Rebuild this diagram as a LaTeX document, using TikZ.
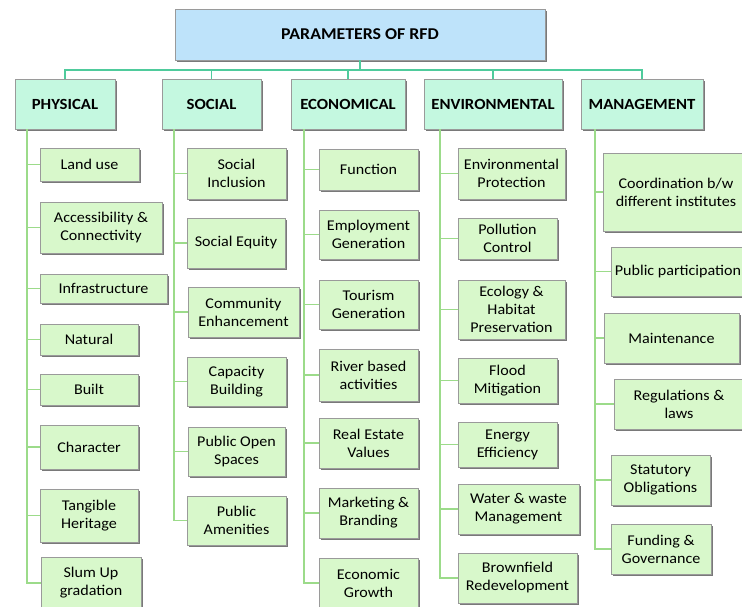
\documentclass[tikz,border=0pt]{standalone}
\usepackage{fontspec}
\setmainfont{Carlito}[FakeStretch=1.08]
\usetikzlibrary{shadows}

\definecolor{titleblue}{HTML}{BEE3FA}
\definecolor{headmint}{HTML}{C4F8E0}
\definecolor{leafgreen}{HTML}{D8F8CB}
\definecolor{busteal}{HTML}{4FCB9C}
\definecolor{spinegreen}{HTML}{9CDB8A}
\definecolor{edgegray}{HTML}{9A9A9A}

\tikzset{
	box/.style={draw=edgegray, line width=0.8pt, align=center, inner sep=2pt,
		drop shadow={shadow xshift=1.5pt, shadow yshift=-2pt, fill=black!70, opacity=.75}},
	titlebox/.style={box, fill=titleblue, font=\fontsize{16.5}{19}\selectfont\bfseries},
	headbox/.style={box, fill=headmint, font=\fontsize{15.5}{18}\selectfont\bfseries},
	leafbox/.style={box, fill=leafgreen, font=\fontsize{14.9}{18}\selectfont},
	bus/.style={draw=busteal, line width=1.5pt},
	branch/.style={draw=spinegreen, line width=1.5pt},
}

\begin{document}
\begin{tikzpicture}[x=1pt, y=-1pt]
		\useasboundingbox (0, 0) rectangle (742, 606);

		% root and categories
		\node[titlebox, minimum width=370, minimum height=51] (rfd) at (360, 34.5) {PARAMETERS OF RFD};
		\node[headbox, minimum width=100, minimum height=50] (phys) at (65, 104) {PHYSICAL};
		\node[headbox, minimum width=99, minimum height=50] (soc) at (211.5, 104) {SOCIAL};
		\node[headbox, minimum width=114, minimum height=50] (econ) at (348, 104) {ECONOMICAL};
		\node[headbox, minimum width=138, minimum height=50] (env) at (493, 104) {ENVIRONMENTAL};
		\node[headbox, minimum width=122, minimum height=50] (mgmt) at (642, 104) {MANAGEMENT};

		% physical
		\node[leafbox, minimum width=99, minimum height=33] (pland) at (89.5, 164.5) {Land use};
		\node[leafbox, minimum width=122, minimum height=51] (pacc) at (101, 227.5) {Accessibility \&\\Connectivity};
		\node[leafbox, minimum width=127, minimum height=29] (pinf) at (103.5, 288.5) {Infrastructure};
		\node[leafbox, minimum width=98, minimum height=31] (pnat) at (89, 339.5) {Natural};
		\node[leafbox, minimum width=98, minimum height=31] (pbuilt) at (89, 389.5) {Built};
		\node[leafbox, minimum width=98, minimum height=44] (pchar) at (89, 447) {Character};
		\node[leafbox, minimum width=98, minimum height=53] (ptang) at (89, 515.5) {Tangible\\Heritage};
		\node[leafbox, minimum width=100, minimum height=52] (pslum) at (91, 583) {Slum Up\\gradation};

		% social
		\node[leafbox, minimum width=99, minimum height=51] (sinc) at (236.5, 173.5) {Social\\Inclusion};
		\node[leafbox, minimum width=98, minimum height=50] (sequ) at (236, 243) {Social Equity};
		\node[leafbox, minimum width=111, minimum height=50] (scom) at (243.5, 312) {Community\\Enhancement};
		\node[leafbox, minimum width=99, minimum height=49] (scap) at (236.5, 381.5) {Capacity\\Building};
		\node[leafbox, minimum width=97, minimum height=49] (sopen) at (236.5, 451.5) {Public Open\\Spaces};
		\node[leafbox, minimum width=99, minimum height=49] (samen) at (236.5, 520.5) {Public\\Amenities};

		% economical
		\node[leafbox, minimum width=99, minimum height=41] (efun) at (368.5, 169.5) {Function};
		\node[leafbox, minimum width=99, minimum height=49] (eemp) at (368.5, 234.5) {Employment\\Generation};
		\node[leafbox, minimum width=99, minimum height=49] (etour) at (368.5, 304.5) {Tourism\\Generation};
		\node[leafbox, minimum width=99, minimum height=52] (eriv) at (368.5, 375) {River based\\activities};
		\node[leafbox, minimum width=99, minimum height=50] (ereal) at (368.5, 443) {Real Estate\\Values};
		\node[leafbox, minimum width=99, minimum height=50] (emark) at (368.5, 513) {Marketing \&\\Branding};
		\node[leafbox, minimum width=99, minimum height=50] (egrow) at (368.5, 583) {Economic\\Growth};

		% environmental
		\node[leafbox, minimum width=107, minimum height=51] (nprot) at (511.5, 173.5) {Environmental\\Protection};
		\node[leafbox, minimum width=99, minimum height=41] (npoll) at (507.5, 238.5) {Pollution\\Control};
		\node[leafbox, minimum width=107, minimum height=59] (necol) at (511.5, 309.5) {Ecology \&\\Habitat\\Preservation};
		\node[leafbox, minimum width=99, minimum height=45] (nflood) at (507.5, 380.5) {Flood\\Mitigation};
		\node[leafbox, minimum width=99, minimum height=45] (nener) at (507.5, 444.5) {Energy\\Efficiency};
		\node[leafbox, minimum width=121, minimum height=50] (nwater) at (518.5, 509) {Water \& waste\\Management};
		\node[leafbox, minimum width=119, minimum height=50] (nbrown) at (517.5, 578) {Brownfield\\Redevelopment};

		% management
		\node[leafbox, minimum width=146, minimum height=78] (mcoord) at (676, 192) {Coordination b/w\\different institutes};
		\node[leafbox, minimum width=134, minimum height=49] (mpub) at (678, 271.5) {Public participation};
		\node[leafbox, minimum width=135, minimum height=50] (mmaint) at (671.5, 338) {Maintenance};
		\node[leafbox, minimum width=130, minimum height=50] (mreg) at (679, 404) {Regulations \&\\laws};
		\node[leafbox, minimum width=99, minimum height=50] (mstat) at (660.5, 480) {Statutory\\Obligations};
		\node[leafbox, minimum width=100, minimum height=50] (mfund) at (661, 549) {Funding \&\\Governance};

		% top bus
		\coordinate (bus) at (0, 70);
		\draw[bus] (phys.north) |- (mgmt.north |- bus) -- (mgmt.north);
		\foreach \n in {soc, econ, env}
		\draw[bus] (\n.north) -- (\n.north |- bus);
		\draw[bus] (rfd.south) -- (rfd.south |- bus);

		% spines
		\coordinate (physspine) at (27, 129);
		\coordinate (socspine) at (174, 129);
		\coordinate (econspine) at (304, 129);
		\coordinate (envspine) at (440, 129);
		\coordinate (mgmtspine) at (595, 129);

		\foreach \n in {pland, pacc, pinf, pnat, pbuilt, pchar, ptang, pslum}
		\draw[branch] (physspine) |- (\n.west);
		\foreach \n in {sinc, sequ, scom, scap, sopen, samen}
		\draw[branch] (socspine) |- (\n.west);
		\foreach \n in {efun, eemp, etour, eriv, ereal, emark, egrow}
		\draw[branch] (econspine) |- (\n.west);
		\foreach \n in {nprot, npoll, necol, nflood, nener, nwater, nbrown}
		\draw[branch] (envspine) |- (\n.west);
		\foreach \n in {mcoord, mpub, mmaint, mreg, mstat, mfund}
		\draw[branch] (mgmtspine) |- (\n.west);

	\end{tikzpicture}
\end{document}
